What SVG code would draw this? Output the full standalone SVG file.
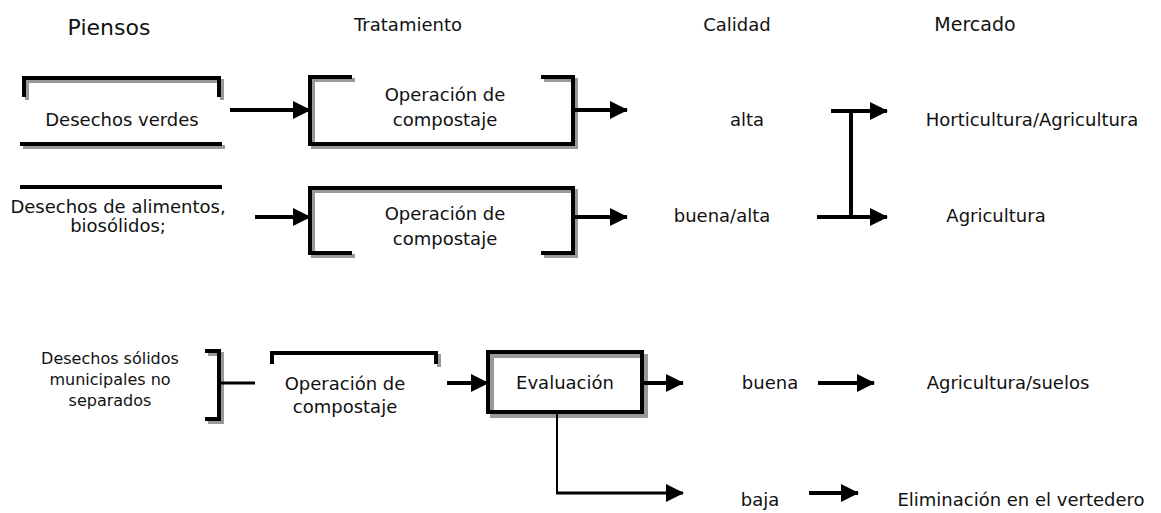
<svg xmlns="http://www.w3.org/2000/svg" width="1161" height="513" viewBox="0 0 1161 513">
<style>
text{font-family:"DejaVu Sans","Liberation Sans",sans-serif;font-size:18px;fill:#111;text-anchor:middle}
.hdr{font-size:18px}
.small{font-size:16px}
.frame{fill:none;stroke:#000;stroke-width:4;stroke-linecap:square}
.shadow{fill:none;stroke:#999;stroke-width:4;stroke-linecap:square}
.conn{fill:none;stroke:#000;stroke-width:4}
.thin{fill:none;stroke:#000;stroke-width:2}
</style>
<defs>
<marker id="ah" viewBox="0 0 18 18" refX="17" refY="9" markerWidth="18" markerHeight="18" markerUnits="userSpaceOnUse" orient="auto">
<path d="M0,0 L18,9 L0,18 Z" fill="#000"/>
</marker>
</defs>
<rect width="1161" height="513" fill="#fff"/>

<g id="headers">
<text x="109" y="35" style="font-size:22px">Piensos</text>
<text x="408" y="31" class="hdr">Tratamiento</text>
<text x="737" y="31" class="hdr">Calidad</text>
<text x="975" y="31" style="font-size:19px">Mercado</text>
</g>

<g id="n-verdes">
<path class="shadow" d="M27,98 V81 H222 V98 M25,147 H223"/>
<path class="frame" d="M24,95 V78 H219 V95 M22,144 H220"/>
<text x="122" y="126">Desechos verdes</text>
</g>

<g id="n-comp1">
<path class="shadow" d="M353,80 H313 V147 H576 V80 H546"/>
<path class="frame" d="M350,77 H310 V144 H573 V77 H543"/>
<text x="445" y="101">Operación de</text>
<text x="445" y="126">compostaje</text>
</g>

<g id="n-alta"><text x="747" y="126">alta</text></g>
<g id="n-horti"><text x="1032" y="126">Horticultura/Agricultura</text></g>

<g id="n-alimentos">
<path class="frame" d="M22,187 H220"/>
<text x="118" y="213">Desechos de alimentos,</text>
<text x="118" y="232">biosólidos;</text>
</g>

<g id="n-comp2">
<path class="shadow" d="M353,256 H313 V191 H576 V256 H546"/>
<path class="frame" d="M350,253 H310 V188 H573 V253 H543"/>
<text x="445" y="220">Operación de</text>
<text x="445" y="245">compostaje</text>
</g>

<g id="n-buenaalta"><text x="722" y="222">buena/alta</text></g>
<g id="n-agri"><text x="996" y="222">Agricultura</text></g>

<g id="n-msw">
<path class="shadow" d="M210,354 H222 V422 H210"/>
<path class="frame" d="M207,351 H219 V419 H207"/>
<text x="110" y="364" class="small">Desechos sólidos</text>
<text x="110" y="385" class="small">municipales no</text>
<text x="110" y="406" class="small">separados</text>
</g>

<g id="n-comp3">
<path class="shadow" d="M439,356 V365"/>
<path class="frame" d="M272,362 V353 H436 V362"/>
<text x="345" y="390">Operación de</text>
<text x="345" y="413">compostaje</text>
</g>

<g id="n-eval">
<rect x="492" y="356" width="154" height="60" class="shadow"/>
<rect x="488" y="352" width="154" height="60" class="frame" fill="#fff"/>
<text x="565" y="389">Evaluación</text>
</g>

<g id="n-buena"><text x="770" y="389">buena</text></g>
<g id="n-suelos"><text x="1008" y="389">Agricultura/suelos</text></g>
<g id="n-baja"><text x="760" y="506">baja</text></g>
<g id="n-elim"><text x="1021" y="506">Eliminación en el vertedero</text></g>

<g id="connectors">
<line class="conn" x1="230" y1="110" x2="310" y2="110" marker-end="url(#ah)"/>
<line class="conn" x1="573" y1="110" x2="627" y2="110" marker-end="url(#ah)"/>
<line class="conn" x1="255" y1="217" x2="310" y2="217" marker-end="url(#ah)"/>
<line class="conn" x1="573" y1="217" x2="627" y2="217" marker-end="url(#ah)"/>
<line class="conn" x1="831" y1="111" x2="887" y2="111" marker-end="url(#ah)"/>
<line class="conn" x1="851" y1="111" x2="851" y2="217"/>
<line class="conn" x1="817" y1="217" x2="887" y2="217" marker-end="url(#ah)"/>
<line class="conn" x1="219" y1="383" x2="255" y2="383" style="stroke-width:3"/>
<line class="conn" x1="447" y1="383" x2="488" y2="383" marker-end="url(#ah)"/>
<line class="conn" x1="642" y1="383" x2="683" y2="383" marker-end="url(#ah)"/>
<line class="thin" x1="557" y1="414" x2="557" y2="493"/>
<line class="conn" x1="556" y1="493" x2="683" y2="493" style="stroke-width:3" marker-end="url(#ah)"/>
<line class="conn" x1="818" y1="383" x2="874" y2="383" marker-end="url(#ah)"/>
<line class="conn" x1="809" y1="493" x2="858" y2="493" marker-end="url(#ah)"/>
</g>
</svg>
